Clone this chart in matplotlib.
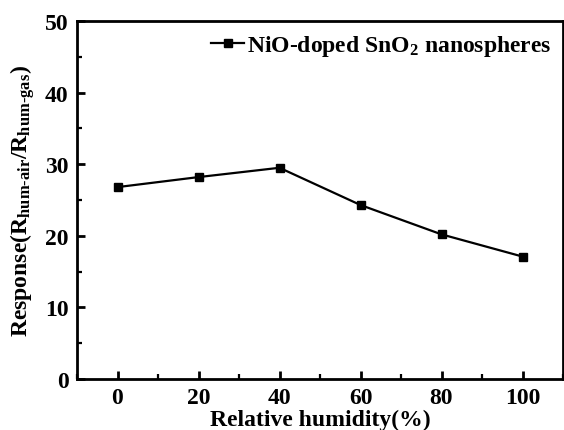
import numpy as np
import matplotlib as mpl
mpl.use('Agg')
import matplotlib.pyplot as plt
from matplotlib.ticker import MultipleLocator

plt.rcParams['font.family'] = 'Liberation Serif'
plt.rcParams['font.weight'] = 'bold'
plt.rcParams['mathtext.fontset'] = 'custom'
plt.rcParams['mathtext.rm'] = 'Liberation Serif:bold'
plt.rcParams['mathtext.it'] = 'Liberation Serif:bold'
plt.rcParams['mathtext.bf'] = 'Liberation Serif:bold'
plt.rcParams['mathtext.default'] = 'regular'

# data
humidity = [0, 20, 40, 60, 80, 100]
response = [26.8, 28.2, 29.5, 24.3, 20.2, 17.1]

fig = plt.figure(figsize=(5.64, 4.31), dpi=100)
ax = fig.add_axes([77/564, 51/431, 486/564, 358/431])

ax.plot(humidity, response, '-s', color='black', lw=1.6, ms=6,
        label=r'NiO-doped SnO$_2$ nanospheres')

ax.set_xlim(-10, 110)
ax.set_ylim(0, 50)
ax.xaxis.set_major_locator(MultipleLocator(20))
ax.xaxis.set_minor_locator(MultipleLocator(10))
ax.yaxis.set_major_locator(MultipleLocator(10))
ax.yaxis.set_minor_locator(MultipleLocator(5))
ax.tick_params(which='major', direction='in', length=6, width=2, labelsize=17, pad=6)
ax.tick_params(which='minor', direction='in', length=3.5, width=1.6)
for s in ax.spines.values():
    s.set_linewidth(2)

ax.set_xlabel('Relative humidity(%)', fontsize=17, fontweight='bold', labelpad=0)
ax.set_ylabel(r'Response(R$_\text{hum-air}$/R$_\text{hum-gas}$)', fontsize=17,
              fontweight='bold', labelpad=6)

ax.legend(loc='upper right', frameon=False, fontsize=17, handlelength=1.4,
          handletextpad=0.1, borderaxespad=0.05, borderpad=0.45)

fig.savefig('out.png', dpi=100)
